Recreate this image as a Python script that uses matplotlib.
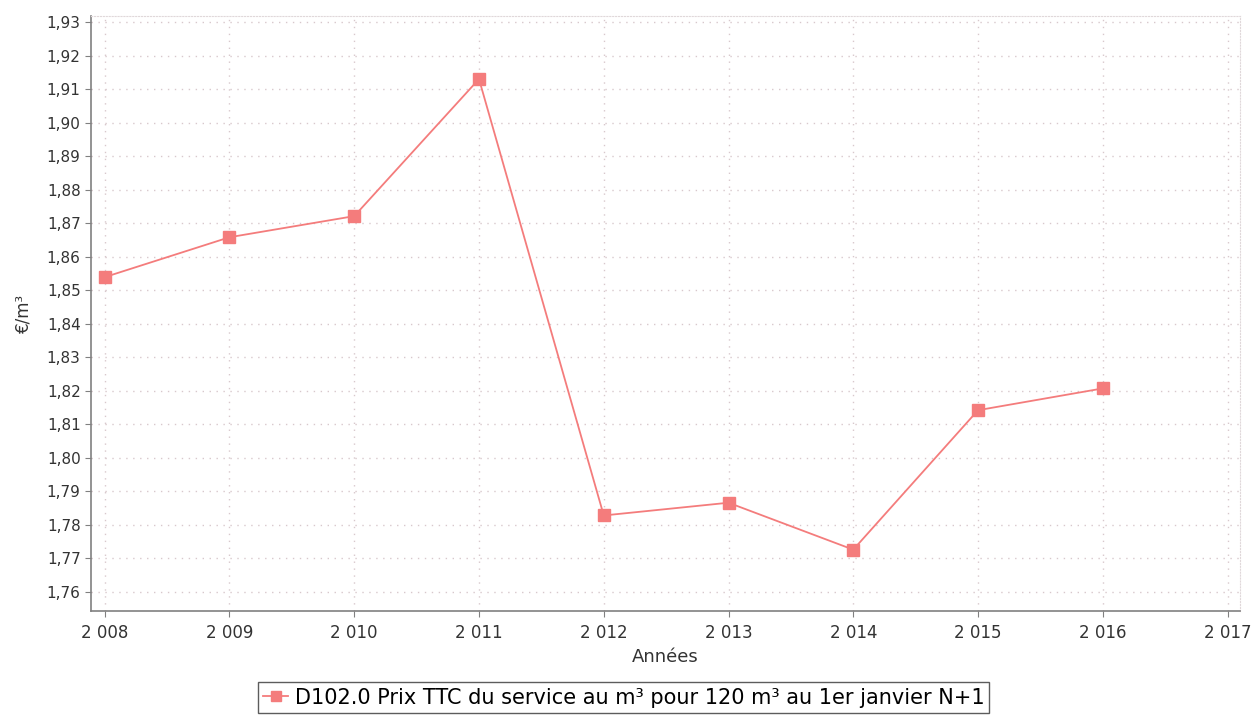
import matplotlib.pyplot as plt
from matplotlib.ticker import FuncFormatter, MultipleLocator

years = [2008, 2009, 2010, 2011, 2012, 2013, 2014, 2015, 2016]
prix = [1.8539, 1.8658, 1.8721, 1.9130, 1.7828, 1.7866, 1.7726, 1.8142, 1.8207]
serie = "D102.0 Prix TTC du service au m³ pour 120 m³ au 1er janvier N+1"

rouge = "#f47c7c"

fig = plt.figure(figsize=(12.55, 7.16), dpi=100)
ax = fig.add_axes([91/1255, 105/716, 1149/1255, 595/716])

ax.plot(years, prix, color=rouge, lw=1.3, marker="s", ms=9,
        markerfacecolor=rouge, markeredgecolor=rouge, label=serie)

ax.set_xlim(2007.89, 2017.1)
ax.set_ylim(1.7543, 1.9318)
ax.xaxis.set_major_locator(MultipleLocator(1))
ax.yaxis.set_major_locator(MultipleLocator(0.01))
ax.xaxis.set_major_formatter(FuncFormatter(lambda v, p: "%d %03d" % (int(v) // 1000, int(v) % 1000)))
ax.yaxis.set_major_formatter(FuncFormatter(lambda v, p: ("%.2f" % v).replace(".", ",")))

ax.grid(True, color="#d8c8cc", linestyle=(0, (1, 4)), lw=1)
for s in ["top", "right"]:
    ax.spines[s].set_color("#e0d8da")
    ax.spines[s].set_linestyle(":")
for s in ["left", "bottom"]:
    ax.spines[s].set_color("#808080")
    ax.spines[s].set_linewidth(1.2)
ax.tick_params(colors="#808080", labelcolor="#333333", length=4)
ax.tick_params(axis="x", labelsize=12, pad=5)
ax.tick_params(axis="y", labelsize=11)

ax.set_xlabel("Années", fontsize=13, color="#333333", labelpad=5)
ax.set_ylabel("€/m³", fontsize=12, color="#333333", labelpad=10)

leg = fig.legend(loc="lower center", bbox_to_anchor=(0.497, 0.0), fontsize=15,
                 frameon=True, fancybox=False, edgecolor="#333333",
                 handlelength=1.2, handletextpad=0.3, borderpad=0.25,
                 borderaxespad=0.15, markerscale=0.8)
leg.get_frame().set_linewidth(1)

fig.savefig("out.png", dpi=100)
